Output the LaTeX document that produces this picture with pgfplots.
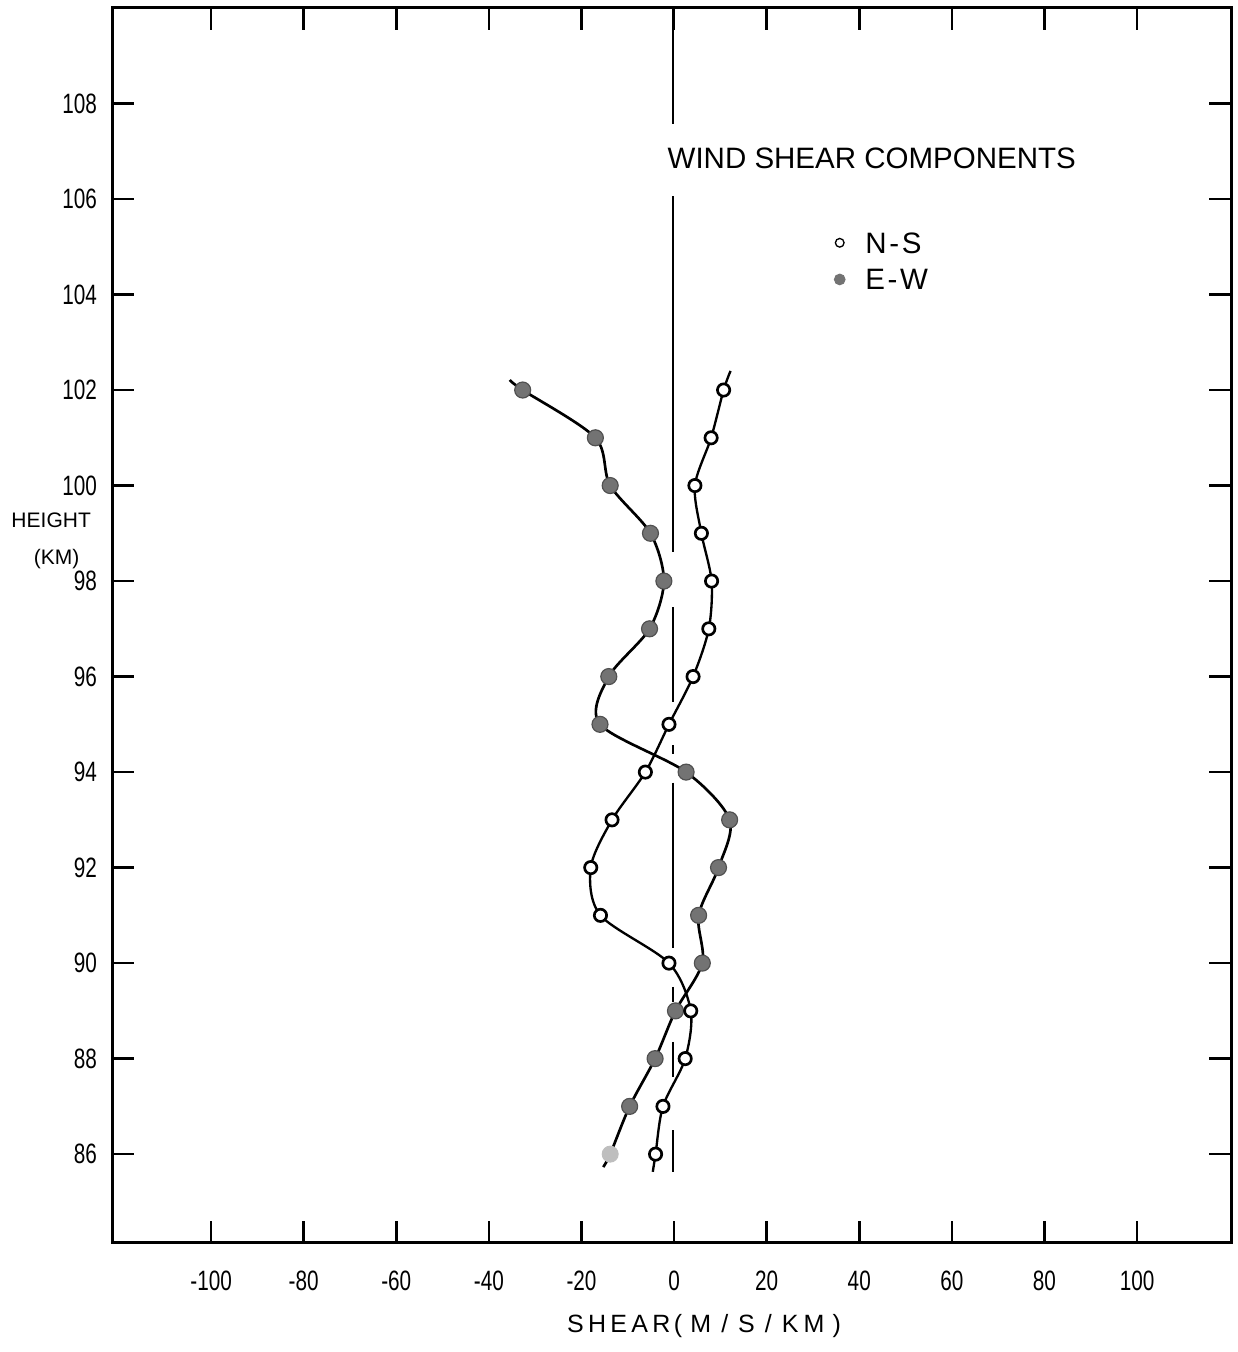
\documentclass[border=0pt]{standalone}
\usepackage{fontspec}
\setmainfont{Liberation Sans}
\newfontfamily\condfont[FakeStretch=0.74]{Liberation Sans}
\usepackage{pgfplots}
\pgfplotsset{compat=1.18}
\usepackage{pgfplotstable}

% E-W component (filled markers)
\pgfplotstableread{
x y
-32.7 102
-17.0 101
-13.8 100
-5.1 99
-2.2 98
-5.3 97
-14.1 96
-16.0 95
2.6 94
12.0 93
9.6 92
5.3 91
6.1 90
0.3 89
-4.1 88
-9.6 87
}\ewtable
\pgfplotstableread{
x y
-13.8 86
}\ewlast
% N-S component (open markers)
\pgfplotstableread{
x y
10.7 102
8.0 101
4.5 100
5.9 99
8.1 98
7.5 97
4.1 96
-1.1 95
-6.2 94
-13.4 93
-18.0 92
-15.9 91
-1.1 90
3.6 89
2.4 88
-2.4 87
-4.0 86
}\nstable

\definecolor{ewfill}{RGB}{115,115,115}
\definecolor{ewdraw}{RGB}{80,80,80}
\definecolor{ewlight}{RGB}{190,190,190}

\begin{document}
\begin{tikzpicture}
\begin{axis}[
  at={(0,0)}, anchor=south west,
  scale only axis, width=335.55pt, height=370.35pt,
  xmin=-121.3, xmax=120.3, ymin=84.15, ymax=110,
  xtick={-100,-80,-60,-40,-20,0,20,40,60,80,100},
  ytick={86,88,90,92,94,96,98,100,102,104,106,108},
  xticklabels={-100,-80,-60,-40,-20,0,20,40,60,80,100},
  yticklabels={86,88,90,92,94,96,98,100,102,104,106,108},
  tick pos=both, tick align=inside,
  major tick length=6.5pt,
  axis line style={line width=0.9pt},
  every tick/.style={black, line width=0.8pt},
  xticklabel style={font=\condfont\fontsize{8.4}{10}\selectfont, inner sep=0pt, anchor=north, yshift=-8.25pt},
  yticklabel style={font=\condfont\fontsize{8.4}{10}\selectfont, inner sep=0pt, anchor=east, xshift=-4.5pt},
  unbounded coords=jump,
  clip=true,
  legend style={draw=none, fill=none, inner sep=0pt, outer sep=0pt,
    font=\fontsize{8.85}{10}\selectfont,
    row sep=4.7pt, column sep=6.1pt,
    nodes={inner sep=0pt, text height=6.3pt, text depth=0pt},
    at={(0.6454,0.8183)}, anchor=north west},
  legend cell align=left,
  legend image code/.code={\draw[#1] plot coordinates {(0pt,0pt)};},
]
% zero line (broken as in the original)
\addplot[black, line width=0.65pt, no marks, forget plot] coordinates {
(-0.3,110.0) (-0.3,107.57) (-0.3,nan)
(-0.3,106.06) (-0.3,98.60) (-0.3,nan)
(-0.3,97.45) (-0.3,95.46) (-0.3,nan)
(-0.3,94.56) (-0.3,94.37) (-0.3,nan)
(-0.3,93.78) (-0.3,90.31) (-0.3,nan)
(-0.3,89.50) (-0.3,89.18) (-0.3,nan)
(-0.3,88.35) (-0.3,87.61) (-0.3,nan)
(-0.3,86.50) (-0.3,85.63)
};
% E-W curve
\addplot[black, line width=0.8pt, smooth, no marks, forget plot] coordinates {
(-35.5,102.21) (-32.7,102) (-17.0,101) (-13.8,100) (-5.1,99) (-2.2,98) (-5.3,97)
(-14.1,96) (-16.0,95) (2.6,94) (12.0,93) (9.6,92) (5.3,91) (6.1,90) (0.3,89)
(-4.1,88) (-9.6,87) (-13.8,86) (-15.3,85.73)
};
% N-S curve
\addplot[black, line width=0.7pt, smooth, no marks, forget plot] coordinates {
(12.2,102.4) (10.7,102) (8.0,101) (4.5,100) (5.9,99) (8.1,98) (7.5,97) (4.1,96)
(-1.1,95) (-6.2,94) (-13.4,93) (-18.0,92) (-15.9,91) (-1.1,90) (3.6,89) (2.4,88)
(-2.4,87) (-4.0,86) (-4.6,85.63)
};
% E-W markers
\addplot[only marks, mark=*, mark size=2.4pt, mark options={fill=ewfill, draw=ewdraw, line width=0.35pt}, forget plot] table[x=x,y=y] {\ewtable};
\addplot[only marks, mark=*, mark size=2.4pt, mark options={fill=ewlight, draw=ewlight, line width=0.3pt}, forget plot] table[x=x,y=y] {\ewlast};
% N-S markers
\addplot[only marks, mark=*, mark size=1.85pt, mark options={fill=white, draw=black, line width=0.8pt}, forget plot] table[x=x,y=y] {\nstable};
% legend
\addlegendimage{only marks, mark=*, mark size=1.3pt, mark options={fill=white, draw=black, line width=0.4pt}}
\addlegendentry{N\kern0.8pt-\kern0.8pt S}
\addlegendimage{only marks, mark=*, mark size=1.6pt, mark options={fill=ewfill, draw=ewfill, line width=0.3pt}}
\addlegendentry{E\kern0.8pt-\kern0.8pt W}
\end{axis}
\node[anchor=base west, inner sep=0pt, font=\fontsize{8.85}{10}\selectfont] at (166.35pt,322.26pt) {WIND SHEAR COMPONENTS};
\node[anchor=base, inner sep=0pt, font=\fontsize{6.3}{7}\selectfont] at (-18.4pt,214.35pt) {HEIGHT};
\node[anchor=base, inner sep=0pt, font=\fontsize{6.3}{7}\selectfont] at (-16.74pt,203.25pt) {(KM)};
\node[anchor=base, inner sep=0pt, font=\fontsize{7.5}{9}\selectfont] at (177.45pt,-27.15pt)
  {S\kern1.3pt H\kern1.3pt E\kern1.3pt A\kern1.3pt R\kern1pt(\kern2.5pt M\kern3pt/\kern3pt S\kern3pt/\kern3pt K\kern1.5pt M\kern2.5pt)};
\pgfresetboundingbox
\path (-33.75pt,-32.85pt) rectangle (337.35pt,372.75pt);
\end{tikzpicture}
\end{document}
